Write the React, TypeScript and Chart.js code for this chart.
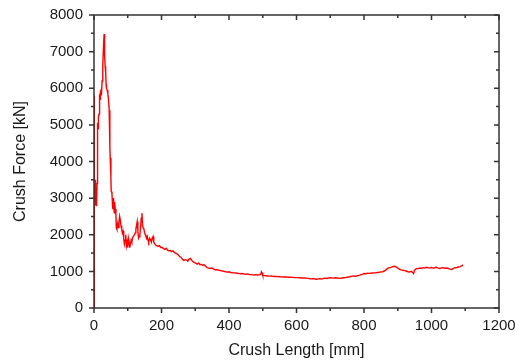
import React, { useEffect, useRef } from "react";
import { Chart, registerables } from "chart.js";

Chart.register(...registerables);

const crushLength: number[] = [
  0, 0.3, 1, 2, 3, 4, 5, 6, 7, 8, 9, 10, 11, 12, 13, 15, 16, 17, 18, 19, 21, 22, 24, 26, 28, 30, 31, 32, 33, 34, 35, 36, 37, 39, 41, 43, 45, 47, 48, 50,
  51, 53, 55, 56, 57, 58, 60, 61, 63, 65, 66, 68, 70, 72, 74, 76, 78, 80, 82, 84, 86, 88, 90, 92, 94, 96, 98, 100, 102, 104, 106, 108, 110, 112, 114, 116,
  118, 120, 122, 124, 126, 128, 130, 132, 134, 136, 138, 140, 142, 144, 146, 148, 150, 152, 154, 156, 158, 160, 162, 165, 168, 170, 172, 175, 177, 180,
  183, 186, 190, 194, 198, 202, 206, 210, 214, 218, 222, 226, 230, 234, 238, 242, 246, 250, 254, 258, 262, 266, 270, 274, 278, 282, 286, 290, 294, 298,
  302, 306, 310, 314, 318, 322, 326, 330, 335, 340, 345, 350, 355, 360, 365, 370, 375, 380, 385, 390, 395, 400, 405, 410, 415, 420, 425, 430, 435, 440,
  445, 450, 455, 460, 465, 470, 475, 480, 485, 490, 494, 496, 498, 500, 505, 510, 515, 520, 525, 530, 535, 540, 545, 550, 555, 560, 565, 570, 575, 580,
  585, 590, 595, 600, 605, 610, 615, 620, 625, 630, 635, 640, 645, 650, 655, 660, 665, 670, 675, 680, 685, 690, 695, 700, 705, 710, 715, 720, 725, 730,
  735, 740, 745, 750, 755, 760, 765, 770, 775, 780, 785, 790, 795, 800, 805, 810, 815, 820, 825, 830, 835, 840, 845, 850, 855, 860, 865, 870, 875, 880,
  885, 890, 895, 900, 905, 910, 915, 920, 925, 930, 935, 940, 945, 947, 949, 952, 956, 960, 965, 970, 975, 980, 985, 990, 995, 1000, 1005, 1010, 1015,
  1020, 1025, 1030, 1035, 1040, 1045, 1050, 1055, 1060, 1065, 1070, 1075, 1080, 1085, 1090, 1093,
];

const crushForce: number[] = [
  0, 5800, 4200, 3300, 2900, 3500, 2800, 3100, 2850, 2780, 3400, 4300, 5050, 4900, 5200, 5300, 5450, 5750, 5700, 5900, 5950, 5800, 6200, 6600, 7100, 7480, 7300, 6900, 6600, 6550, 6450, 6100, 6000, 5950, 5850, 5700, 5400, 4400, 4100, 3600,
  3180, 3150, 2800, 2700, 3000, 2850, 2600, 2900, 2700, 2550, 2200, 2150, 2300, 2200, 2350, 2500, 2400, 2250, 2150, 2050, 2100, 1900, 1750, 1850, 2000, 1700, 1800, 1650, 1900, 1800, 1650, 1750, 1850, 1800, 1900, 1950,
  1950, 2000, 2050, 2150, 2250, 2360, 2100, 1910, 1950, 2000, 2200, 2450, 2590, 2250, 2180, 2150, 2050, 2000, 1950, 1900, 1950, 1850, 1800, 1900, 1850, 1800, 1900, 1950, 1800, 1750,
  1720, 1700, 1680, 1700, 1650, 1650, 1620, 1600, 1630, 1580, 1560, 1570, 1540, 1560, 1520, 1500, 1480, 1450, 1400, 1380, 1330, 1300, 1320, 1310, 1280, 1340, 1350, 1300, 1260, 1240,
  1220, 1200, 1230, 1180, 1190, 1170, 1180, 1150, 1100, 1090, 1080, 1090, 1060, 1040, 1050, 1030, 1020, 1010, 1000, 990, 980, 990, 970, 960, 960, 955, 950, 940, 935, 940,
  925, 920, 930, 915, 910, 905, 900, 910, 900, 905, 920, 990, 960, 890, 885, 880, 875, 870, 875, 865, 860, 862, 858, 855, 850, 848, 845, 850, 840, 838,
  835, 836, 832, 830, 828, 825, 820, 818, 822, 815, 810, 800, 795, 805, 790, 785, 795, 800, 790, 810, 815, 805, 820, 830, 820, 815, 825, 820, 815, 810,
  820, 825, 830, 840, 845, 860, 870, 875, 865, 880, 890, 905, 920, 940, 935, 950, 945, 950, 955, 960, 960, 970, 975, 985, 990, 1010, 1040, 1080, 1100, 1110,
  1130, 1140, 1120, 1090, 1060, 1040, 1030, 1020, 1010, 990, 985, 1000, 960, 940, 1020, 1050, 1080, 1070, 1090, 1080, 1100, 1090, 1110, 1100, 1095, 1105, 1090, 1100, 1110,
  1090, 1080, 1095, 1100, 1085, 1090, 1080, 1060, 1050, 1080, 1100, 1105, 1120, 1130, 1150, 1180,
];

const xMin = 0;
const xMax = 1200;
const xMajorStep = 200;
const xMinorStep = 100;
const yMin = 0;
const yMax = 8000;
const yMajorStep = 1000;
const yMinorStep = 500;

const xTitle = "Crush Length [mm]";
const yTitle = "Crush Force [kN]";

const FONT = "'Liberation Sans', Arial, sans-serif";

const framePlugin = {
  id: "frameTicks",
  afterDraw(chart: any) {
    const { ctx, chartArea, scales } = chart;
    const { left, right, top, bottom } = chartArea;
    const xs = scales.x;
    const ys = scales.y;
    ctx.save();
    ctx.strokeStyle = "#333333";
    ctx.lineWidth = 1.5;
    ctx.strokeRect(left, top, right - left, bottom - top);
    ctx.beginPath();
    for (let v = xMin; v <= xMax; v += xMinorStep) {
      const px = xs.getPixelForValue(v);
      const len = v % xMajorStep === 0 ? 5 : 3;
      ctx.moveTo(px, bottom);
      ctx.lineTo(px, bottom + len);
      ctx.moveTo(px, top);
      ctx.lineTo(px, top + len);
    }
    for (let v = yMin; v <= yMax; v += yMinorStep) {
      const py = ys.getPixelForValue(v);
      const len = v % yMajorStep === 0 ? 5 : 3;
      ctx.moveTo(left, py);
      ctx.lineTo(left - len, py);
      ctx.moveTo(right, py);
      ctx.lineTo(right - len, py);
    }
    ctx.stroke();
    ctx.restore();
  },
};

export default function App() {
  const canvasRef = useRef<HTMLCanvasElement | null>(null);

  useEffect(() => {
    if (!canvasRef.current) return;
    const points = crushLength.map((x, i) => ({ x, y: crushForce[i] }));
    const chart = new Chart(canvasRef.current, {
      type: "line",
      data: {
        datasets: [
          {
            data: points,
            borderColor: "#ff0000",
            borderWidth: 1.4,
            pointRadius: 0,
            tension: 0,
            fill: false,
          },
        ],
      },
      options: {
        responsive: false,
        animation: false,
        layout: { padding: { top: 15, right: 16, left: 0, bottom: 0 } },
        plugins: {
          legend: { display: false },
          tooltip: { enabled: false },
        },
        scales: {
          x: {
            type: "linear",
            min: xMin,
            max: xMax,
            afterFit: (scale: any) => {
              scale.height = 52;
              scale.paddingRight = 0;
              scale.paddingLeft = 0;
            },
            ticks: {
              stepSize: xMajorStep,
              maxRotation: 0,
              autoSkip: false,
              padding: 9,
              color: "#1a1a1a",
              font: { family: FONT, size: 15 },
              callback: (v: any) => String(v),
            },
            grid: { display: true, drawOnChartArea: false, drawTicks: false },
            border: { display: false },
            title: {
              display: true,
              text: xTitle,
              color: "#1a1a1a",
              font: { family: FONT, size: 16 },
              padding: { top: 0, bottom: 0 },
            },
          },
          y: {
            type: "linear",
            min: yMin,
            max: yMax,
            afterFit: (scale: any) => {
              scale.width = 94;
              scale.paddingTop = 0;
              scale.paddingBottom = 0;
            },
            ticks: {
              stepSize: yMajorStep,
              autoSkip: false,
              padding: 11,
              color: "#1a1a1a",
              font: { family: FONT, size: 15 },
              callback: (v: any) => String(v),
            },
            grid: { display: true, drawOnChartArea: false, drawTicks: false },
            border: { display: false },
            title: {
              display: true,
              text: yTitle,
              color: "#1a1a1a",
              font: { family: FONT, size: 16 },
              padding: { top: 11, bottom: 0 },
            },
          },
        },
      },
      plugins: [framePlugin],
    });
    return () => chart.destroy();
  }, []);

  return (
    <div style={{ position: "fixed", left: 0, top: 0, width: 515, height: 360, background: "#ffffff" }}>
      <canvas ref={canvasRef} width={515} height={360} />
    </div>
  );
}
